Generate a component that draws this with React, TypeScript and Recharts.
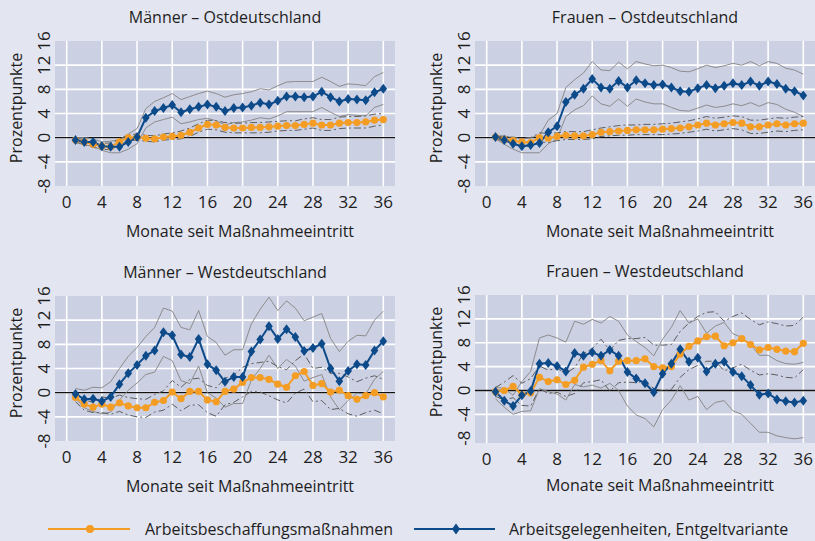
import React from "react"
import { LineChart, Line, XAxis, YAxis, CartesianGrid, ReferenceLine } from "recharts"

// Monate seit Maßnahmeeintritt
const months = [1, 2, 3, 4, 5, 6, 7, 8, 9, 10, 11, 12, 13, 14, 15, 16, 17, 18, 19, 20, 21, 22, 23, 24, 25, 26, 27, 28, 29, 30, 31, 32, 33, 34, 35, 36]
const xTicks = [0, 4, 8, 12, 16, 20, 24, 28, 32, 36]
const yTicks = [-8, -4, 0, 4, 8, 12, 16]
const gridY = [-4, 0, 4, 8, 12]

// Männer – Ostdeutschland
const abmOM = [-0.4, -0.7, -1.1, -1.4, -1.5, -0.7, 0.0, 0.1, -0.1, -0.2, 0.1, 0.2, 0.4, 0.9, 1.6, 2.2, 2.1, 1.7, 1.6, 1.6, 1.7, 1.7, 1.8, 1.9, 2.0, 2.0, 2.2, 2.4, 2.1, 2.1, 2.4, 2.5, 2.5, 2.6, 2.9, 3.0]
const abmOMLo = [-0.7, -1.1, -1.6, -1.9, -2.0, -1.2, -0.5, -0.4, -0.6, -0.7, -0.4, -0.3, -0.2, 0.2, 0.9, 1.4, 1.3, 0.9, 0.8, 0.8, 0.8, 0.8, 0.9, 1.1, 1.2, 1.2, 1.4, 1.6, 1.2, 1.2, 1.5, 1.6, 1.6, 1.6, 1.9, 2.1]
const abmOMHi = [-0.1, -0.3, -0.6, -0.9, -0.9, -0.3, 0.5, 0.6, 0.4, 0.3, 0.6, 0.8, 1.1, 1.6, 2.3, 2.9, 2.8, 2.5, 2.4, 2.4, 2.5, 2.5, 2.6, 2.7, 2.8, 2.8, 3.1, 3.3, 3.0, 3.0, 3.4, 3.5, 3.5, 3.6, 3.9, 4.0]
const aghOM = [-0.4, -0.7, -0.7, -1.4, -1.5, -1.5, -0.7, 0.1, 3.3, 4.4, 4.9, 5.4, 4.2, 4.7, 5.1, 5.5, 5.1, 4.4, 4.9, 5.0, 5.3, 5.8, 5.5, 6.1, 6.8, 6.8, 6.7, 6.8, 7.6, 6.7, 6.0, 6.4, 6.3, 6.2, 7.5, 8.1]
const aghOMLo = [-0.8, -1.2, -1.4, -2.1, -2.5, -2.5, -1.9, -1.0, 1.6, 2.6, 3.0, 3.4, 2.3, 2.6, 3.0, 3.2, 2.8, 2.1, 2.5, 2.6, 2.9, 3.3, 3.1, 3.6, 4.3, 4.3, 4.3, 4.3, 5.0, 4.2, 3.5, 3.8, 3.7, 3.6, 5.0, 5.5]
const aghOMHi = [0.0, 0.0, -0.2, -0.7, -0.6, -0.3, 0.6, 1.5, 4.8, 6.0, 6.6, 7.3, 6.3, 6.8, 7.3, 7.7, 7.3, 6.7, 7.1, 7.3, 7.6, 8.1, 7.9, 8.6, 9.2, 9.3, 9.3, 9.3, 10.0, 9.3, 8.5, 8.9, 8.8, 8.6, 10.1, 10.8]

// Frauen – Ostdeutschland
const abmOF = [0.1, -0.3, -0.5, -0.7, -0.8, 0.0, -0.1, 0.2, 0.4, 0.3, 0.3, 0.5, 0.9, 1.0, 1.1, 1.2, 1.3, 1.3, 1.3, 1.4, 1.5, 1.6, 1.8, 2.1, 2.4, 2.1, 2.3, 2.5, 2.4, 1.8, 1.8, 2.1, 2.3, 2.1, 2.3, 2.4]
const abmOFLo = [-0.2, -0.6, -1.0, -1.3, -1.5, -0.7, -0.8, -0.5, -0.3, -0.3, -0.3, -0.2, 0.2, 0.3, 0.4, 0.4, 0.5, 0.5, 0.5, 0.5, 0.6, 0.7, 0.9, 1.1, 1.4, 1.1, 1.3, 1.5, 1.3, 0.7, 0.7, 0.9, 1.1, 1.0, 1.2, 1.3]
const abmOFHi = [0.3, 0.1, 0.1, -0.1, 0.0, 0.8, 0.7, 0.8, 1.0, 1.0, 1.0, 1.3, 1.6, 1.8, 2.0, 2.1, 2.1, 2.2, 2.2, 2.3, 2.4, 2.6, 2.8, 3.1, 3.5, 3.2, 3.4, 3.6, 3.5, 2.9, 2.9, 3.1, 3.3, 3.2, 3.4, 3.5]
const aghOF = [0.1, -0.4, -1.0, -1.4, -1.2, -0.9, 0.9, 1.9, 5.9, 7.1, 8.1, 9.7, 8.3, 8.1, 9.4, 8.3, 9.5, 9.0, 8.7, 8.8, 8.3, 7.7, 7.6, 8.2, 8.7, 8.2, 8.6, 9.0, 8.7, 9.3, 8.6, 9.3, 8.9, 8.1, 7.7, 7.0]
const aghOFLo = [-0.2, -1.1, -1.9, -2.5, -2.5, -2.5, -1.0, -0.2, 3.5, 4.6, 5.3, 6.9, 5.6, 5.2, 6.4, 5.2, 6.4, 5.9, 5.6, 5.6, 5.0, 4.5, 4.4, 4.9, 5.4, 5.0, 5.2, 5.6, 5.3, 5.8, 5.2, 5.8, 5.5, 4.7, 4.2, 3.5]
const aghOFHi = [0.3, 0.3, 0.0, -0.2, 0.0, 0.4, 2.9, 4.0, 8.3, 9.6, 10.7, 12.6, 11.2, 11.1, 12.5, 11.4, 12.6, 12.2, 11.9, 12.0, 11.6, 11.0, 10.9, 11.4, 12.0, 11.6, 11.9, 12.3, 12.0, 12.6, 11.9, 12.6, 12.3, 11.5, 11.2, 10.5]

// Männer – Westdeutschland
const abmWM = [-0.8, -1.9, -2.4, -1.9, -2.4, -1.7, -2.2, -2.5, -2.5, -1.6, -1.3, 0.1, -1.0, 0.2, 0.2, -1.2, -1.5, 0.2, 0.6, 1.7, 2.5, 2.5, 2.2, 1.4, 0.9, 2.8, 3.5, 1.2, 1.5, 0.1, 0.4, -0.5, -1.1, -0.5, 0.0, -0.7]
const abmWMLo = [-1.5, -2.9, -3.3, -3.3, -3.6, -3.1, -3.7, -4.0, -4.1, -3.2, -2.9, -1.9, -3.0, -2.1, -2.0, -3.3, -3.9, -2.0, -1.6, -0.7, 0.2, 0.1, -0.5, -1.2, -1.7, -0.1, 0.6, -1.5, -1.3, -2.8, -2.6, -3.5, -3.9, -3.3, -2.9, -3.5]
const abmWMHi = [0.0, -1.2, -1.6, -0.7, -0.9, -0.4, -0.8, -1.0, -1.1, -0.3, 0.3, 2.0, 0.9, 2.2, 2.4, 1.2, 0.8, 2.4, 2.9, 4.2, 4.8, 5.0, 5.2, 4.3, 3.8, 5.3, 6.4, 4.0, 4.2, 3.2, 3.2, 2.6, 1.8, 2.4, 2.8, 2.2]
const aghWM = [-0.2, -1.1, -1.0, -1.4, -0.7, 1.4, 3.2, 4.6, 6.1, 7.0, 10.0, 9.5, 6.3, 5.9, 8.9, 4.7, 3.7, 1.8, 2.6, 2.6, 6.8, 8.8, 11.0, 8.9, 10.5, 9.2, 6.9, 7.4, 8.1, 4.0, 1.9, 3.6, 4.7, 4.6, 7.0, 8.5]
const aghWMLo = [-1.0, -2.5, -3.1, -3.5, -3.2, -1.2, 0.4, 1.6, 3.0, 3.4, 6.0, 5.3, 2.0, 1.5, 4.4, 0.0, -0.9, -2.4, -1.8, -1.8, 2.1, 4.0, 6.2, 4.0, 5.5, 4.4, 1.9, 2.5, 3.0, -0.7, -2.8, -1.3, -0.1, -0.2, 2.2, 3.5]
const aghWMHi = [0.7, 0.4, 0.9, 0.8, 1.8, 4.0, 6.0, 7.5, 9.3, 10.8, 14.0, 13.5, 10.8, 10.4, 13.6, 9.3, 8.3, 6.2, 7.1, 7.1, 11.4, 13.8, 15.8, 13.6, 15.2, 14.0, 11.9, 12.5, 13.1, 9.0, 6.8, 8.5, 9.5, 9.4, 12.0, 13.5]

// Frauen – Westdeutschland
const abmWF = [-0.2, 0.0, 0.7, -0.7, -0.4, 2.2, 1.5, 1.8, 1.0, 1.7, 3.9, 4.4, 5.0, 3.3, 4.9, 5.0, 5.0, 5.3, 4.0, 3.8, 4.0, 6.1, 7.4, 8.3, 9.0, 9.1, 7.5, 8.0, 8.7, 7.7, 6.8, 7.2, 6.9, 6.6, 6.5, 7.9]
const abmWFLo = [-1.0, -1.6, -1.2, -2.5, -2.6, 0.3, -0.5, -0.3, -1.0, -0.5, 1.3, 1.5, 1.8, -0.1, 1.3, 1.4, 1.3, 1.6, 0.3, 0.0, 0.2, 2.2, 3.5, 4.2, 4.9, 4.9, 3.3, 3.8, 4.4, 3.4, 2.6, 2.8, 2.6, 2.2, 2.1, 3.5]
const abmWFHi = [0.5, 1.4, 2.5, 1.2, 2.0, 4.1, 3.4, 3.7, 2.9, 3.8, 6.2, 7.0, 8.6, 6.7, 8.4, 8.7, 8.7, 8.9, 7.6, 7.6, 7.7, 9.9, 11.3, 12.4, 13.1, 13.2, 11.6, 12.4, 13.0, 11.9, 11.0, 11.5, 11.2, 10.8, 10.9, 12.3]
const aghWF = [-0.2, -1.7, -2.6, -0.8, -0.1, 4.5, 4.6, 4.1, 3.2, 6.3, 5.8, 6.4, 5.8, 6.8, 5.8, 3.1, 2.0, 1.2, -0.3, 2.8, 4.5, 6.9, 4.8, 5.5, 3.2, 4.5, 4.8, 3.1, 2.4, 0.9, -0.7, -0.5, -1.5, -1.8, -2.0, -1.7]
const aghWFLo = [-1.4, -2.8, -4.0, -3.5, -3.4, 0.3, -0.2, -0.6, -1.6, 1.0, 0.6, 0.9, 0.4, 1.2, 0.0, -2.6, -4.1, -4.7, -6.1, -3.2, -1.6, 0.8, -1.6, -1.0, -3.2, -2.0, -1.7, -3.4, -4.0, -5.5, -7.0, -7.0, -7.6, -7.9, -8.1, -7.9]
const aghWFHi = [0.6, 0.3, -0.8, 1.5, 3.2, 8.8, 9.3, 8.8, 8.1, 11.6, 11.1, 11.9, 11.3, 12.4, 11.6, 9.3, 8.2, 7.2, 5.8, 8.6, 10.6, 13.4, 11.3, 12.0, 9.6, 10.8, 11.4, 9.5, 8.9, 7.7, 5.9, 5.9, 5.0, 4.5, 4.4, 4.7]

const ORANGE = "#f49d25"
const BLUE = "#0c4a8a"
const BAND = "#8c8c8c"
const BAND_DASH = "#5e5e5e"
const FONT = "'Open Sans', sans-serif"
const TEXT = "#1e1e1e"

function Diamond(props: any) {
  const { cx, cy } = props
  if (cx == null || cy == null) return null
  return <polygon points={`${cx},${cy - 5} ${cx + 3.8},${cy} ${cx},${cy + 5} ${cx - 3.8},${cy}`} fill={BLUE} />
}

// y tick labels are rotated like the axis title
function YTick(props: any) {
  const { x, y, payload } = props
  const bx = x - 5
  return (
    <text x={bx} y={y} transform={`rotate(-90 ${bx} ${y})`} textAnchor="middle" fontSize={17} fontFamily={FONT} fill={TEXT}>
      {payload.value}
    </text>
  )
}

interface PanelProps {
  title: string
  left: number
  top: number
  plotH: number
  yMin: number
  rightMargin: number
  abm: number[]
  abmLo: number[]
  abmHi: number[]
  agh: number[]
  aghLo: number[]
  aghHi: number[]
}

function Panel({ title, left, top, plotH, yMin, rightMargin, abm, abmLo, abmHi, agh, aghLo, aghHi }: PanelProps) {
  const data = months.map((m, i) => ({
    m,
    abm: abm[i], abmLo: abmLo[i], abmHi: abmHi[i],
    agh: agh[i], aghLo: aghLo[i], aghHi: aghHi[i],
  }))
  const plotLeft = left + 55
  const width = 55 + 340 + rightMargin
  const height = 250
  const txt: React.CSSProperties = { position: "absolute", fontFamily: FONT, fontSize: 16, color: TEXT, whiteSpace: "nowrap", lineHeight: "20px" }
  return (
    <>
      <div style={{ ...txt, left: plotLeft + 170 - 150, top: top + 7, width: 300, textAlign: "center" }}>{title}</div>
      <div style={{ ...txt, left: plotLeft + 185 - 150, top: top + 221, width: 300, textAlign: "center" }}>Monate seit Maßnahmeeintritt</div>
      <div style={{ ...txt, left: left + 16 - 100, top: top + 108 - 10, width: 200, textAlign: "center", transform: "rotate(-90deg)" }}>Prozentpunkte</div>
      <div style={{ position: "absolute", left, top }}>
        <LineChart width={width} height={height} data={data} margin={{ top: 41, right: rightMargin, bottom: height - 41 - plotH - 30, left: 0 }}>
          <CartesianGrid fill="#ccd0e3" fillOpacity={1} stroke="#ffffff" strokeWidth={1.6} horizontalValues={gridY} verticalValues={xTicks} />
          <XAxis dataKey="m" type="number" domain={[-1.33, 37.33]} ticks={xTicks} allowDataOverflow height={30} axisLine={false} tickLine={false} tickSize={0} tickMargin={10} tick={{ fontSize: 17, fontFamily: FONT, fill: TEXT }} />
          <YAxis type="number" domain={[yMin, 16]} ticks={yTicks} allowDataOverflow width={55} axisLine={false} tickLine={false} tickSize={0} tickMargin={0} tick={<YTick />} />
          <ReferenceLine y={0} stroke="#111111" strokeWidth={1.4} />
          <Line dataKey="aghHi" stroke={BAND} strokeWidth={1} dot={false} isAnimationActive={false} />
          <Line dataKey="aghLo" stroke={BAND} strokeWidth={1} dot={false} isAnimationActive={false} />
          <Line dataKey="abmHi" stroke={BAND_DASH} strokeWidth={1} strokeDasharray="7 3 2 3" dot={false} isAnimationActive={false} />
          <Line dataKey="abmLo" stroke={BAND_DASH} strokeWidth={1} strokeDasharray="7 3 2 3" dot={false} isAnimationActive={false} />
          <Line dataKey="abm" stroke={ORANGE} strokeWidth={2} dot={{ r: 3.6, fill: ORANGE, stroke: "none" }} isAnimationActive={false} />
          <Line dataKey="agh" stroke={BLUE} strokeWidth={2} dot={<Diamond />} isAnimationActive={false} />
        </LineChart>
      </div>
    </>
  )
}

function Legend() {
  const txt: React.CSSProperties = { position: "absolute", fontFamily: FONT, fontSize: 16, color: TEXT, whiteSpace: "nowrap", lineHeight: "20px", top: 519 }
  return (
    <>
      <svg style={{ position: "absolute", left: 0, top: 519 }} width={815} height={20}>
        <line x1={48} x2={130} y1={10} y2={10} stroke={ORANGE} strokeWidth={2} />
        <circle cx={90} cy={10} r={4} fill={ORANGE} />
        <line x1={414} x2={495} y1={10} y2={10} stroke={BLUE} strokeWidth={2} />
        <polygon points="456,4.5 460,10 456,15.5 452,10" fill={BLUE} />
      </svg>
      <div style={{ ...txt, left: 145 }}>Arbeitsbeschaffungsmaßnahmen</div>
      <div style={{ ...txt, left: 509 }}>Arbeitsgelegenheiten, Entgeltvariante</div>
    </>
  )
}

export default function App() {
  return (
    <div style={{ position: "absolute", left: 0, top: 0, width: 815, height: 541, background: "#e3e5f0", overflow: "hidden" }}>
      <Panel title="Männer – Ostdeutschland" left={0} top={0} plotH={145} yMin={-8} rightMargin={12}
        abm={abmOM} abmLo={abmOMLo} abmHi={abmOMHi} agh={aghOM} aghLo={aghOMLo} aghHi={aghOMHi} />
      <Panel title="Frauen – Ostdeutschland" left={420} top={0} plotH={145} yMin={-8} rightMargin={0}
        abm={abmOF} abmLo={abmOFLo} abmHi={abmOFHi} agh={aghOF} aghLo={aghOFLo} aghHi={aghOFHi} />
      <Panel title="Männer – Westdeutschland" left={0} top={255} plotH={145} yMin={-8} rightMargin={12}
        abm={abmWM} abmLo={abmWMLo} abmHi={abmWMHi} agh={aghWM} aghLo={aghWMLo} aghHi={aghWMHi} />
      <Panel title="Frauen – Westdeutschland" left={420} top={254} plotH={148} yMin={-8.8} rightMargin={0}
        abm={abmWF} abmLo={abmWFLo} abmHi={abmWFHi} agh={aghWF} aghLo={aghWFLo} aghHi={aghWFHi} />
      <Legend />
    </div>
  )
}
